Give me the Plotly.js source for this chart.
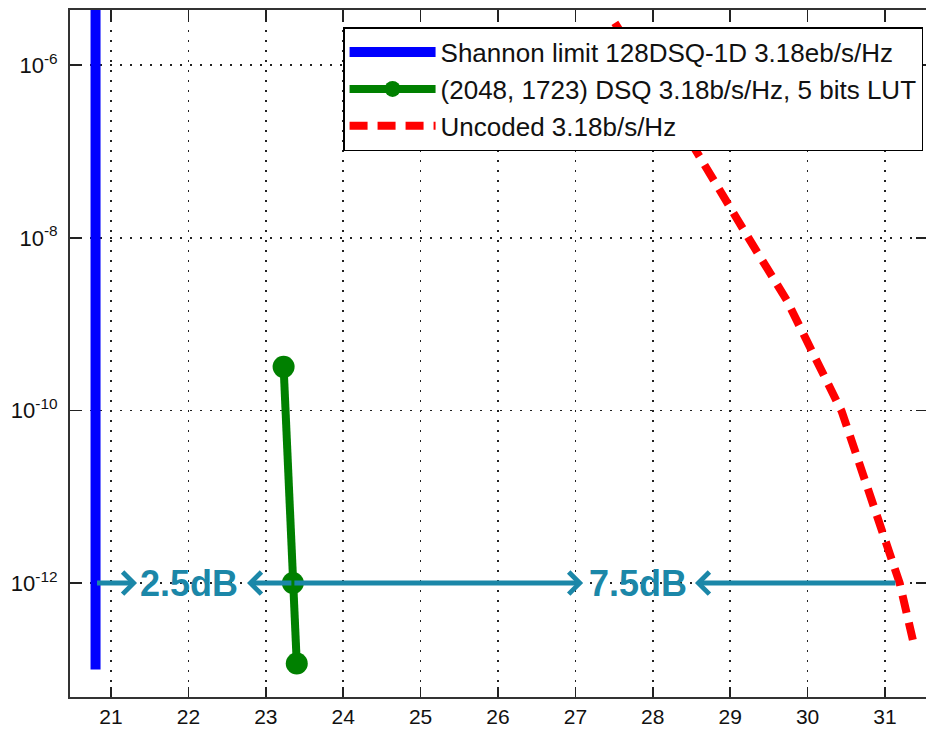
<!DOCTYPE html>
<html>
<head>
<meta charset="utf-8">
<script src="https://cdn.plot.ly/plotly-3.0.1.min.js"></script>
<style>html,body{margin:0;padding:0;background:#fff;}#chart{width:926px;height:731px;}</style>
</head>
<body>
<div id="chart"></div>
<script>
// ---- data ----
const seriesNames = [
  'Shannon limit 128DSQ-1D 3.18eb/s/Hz',
  '(2048, 1723) DSQ 3.18b/s/Hz, 5 bits LUT',
  'Uncoded 3.18b/s/Hz'
];
const shannonX = [20.8, 20.8];
const shannonY = [1e-13, 1e-5];
const dsqX = [23.23, 23.35, 23.40];
const dsqY = [3.2e-10, 1e-12, 1.17e-13];
const uncodedX = [27.51, 28.55, 29.23, 29.73, 30.44, 30.77, 31.00, 31.19, 31.36];
const uncodedY = [3.09e-6, 1.05e-7, 1.02e-8, 1.9e-9, 9.8e-11, 1.29e-11, 3.4e-12, 1e-12, 2.2e-13];
const xTickVals = [21, 22, 23, 24, 25, 26, 27, 28, 29, 30, 31];
const yTickVals = [1e-12, 1e-10, 1e-8, 1e-6];
const yTickText = ['10<sup>-12</sup>', '10<sup>-10</sup>', '10<sup>-8</sup>', '10<sup>-6</sup>'];
// gap annotations at the 1e-12 level
const refLevel = 1e-12;
const gapLabels = ['2.5dB', '7.5dB'];
const gapLabelX = [22.01, 27.81];
const arrowTail = [20.8, 23.35, 23.35, 31.155];
const arrowTip = [21.336, 22.757, 27.10, 28.545];

const teal = '#1B87A8';
const fontFam = 'Liberation Sans, Arial, sans-serif';

const traces = [
  {x: shannonX, y: shannonY, mode: 'lines', name: seriesNames[0], legendgroup: 'a',
   line: {color: '#0000FF', width: 10}},
  {x: dsqX, y: dsqY, mode: 'lines+markers', name: seriesNames[1], legendgroup: 'b',
   line: {color: '#008000', width: 8}, marker: {color: '#008000', size: 22, symbol: 'circle'}},
  {x: uncodedX, y: uncodedY, mode: 'lines', name: seriesNames[2], legendgroup: 'c',
   line: {color: '#FF0000', width: 8, dash: '18px,10px'}}
];

const annotations = [];
const ly = Math.log10(refLevel);
for (let i = 0; i < arrowTip.length; i++) {
  annotations.push({
    x: arrowTip[i], y: ly, ax: arrowTail[i], ay: ly, xref: 'x', yref: 'y', axref: 'x', ayref: 'y',
    text: '', showarrow: true, arrowhead: 4, arrowsize: 0.85, arrowwidth: 5, arrowcolor: teal, standoff: 0
  });
}
for (let i = 0; i < gapLabels.length; i++) {
  annotations.push({
    x: gapLabelX[i], y: ly, xref: 'x', yref: 'y', text: '<b>' + gapLabels[i] + '</b>', showarrow: false,
    font: {family: fontFam, size: 36, color: teal}, xanchor: 'center', yanchor: 'middle'
  });
}

const axisCommon = {
  showline: true, linecolor: '#333', linewidth: 2, mirror: 'ticks',
  ticks: 'inside', ticklen: 10, tickwidth: 1.5, tickcolor: '#222',
  showgrid: true, gridcolor: '#222', gridwidth: 1.5, griddash: '2px,8px',
  zeroline: false
};

const layout = {
  width: 926, height: 731,
  margin: {l: 70, r: 0, t: 10, b: 34},
  paper_bgcolor: '#fff', plot_bgcolor: '#fff',
  showlegend: true,
  legend: {
    x: 0.319, y: 0.975, xanchor: 'left', yanchor: 'top',
    bgcolor: '#fff', bordercolor: '#000', borderwidth: 1.5,
    font: {family: fontFam, size: 26, color: '#111'},
    itemwidth: 86, traceorder: 'grouped', tracegroupgap: 0
  },
  xaxis: Object.assign({}, axisCommon, {
    range: [20.47, 31.53], tickvals: xTickVals, ticklabelstandoff: 0,
    tickfont: {family: fontFam, size: 21, color: '#111'}
  }),
  yaxis: Object.assign({}, axisCommon, {
    type: 'log', range: [-13.32, -5.36], tickvals: yTickVals, ticktext: yTickText,
    ticklabelstandoff: 6, tickfont: {family: fontFam, size: 22, color: '#111'}
  }),
  annotations: annotations
};

Plotly.newPlot('chart', traces, layout, {displayModeBar: false, staticPlot: true});
</script>
</body>
</html>
